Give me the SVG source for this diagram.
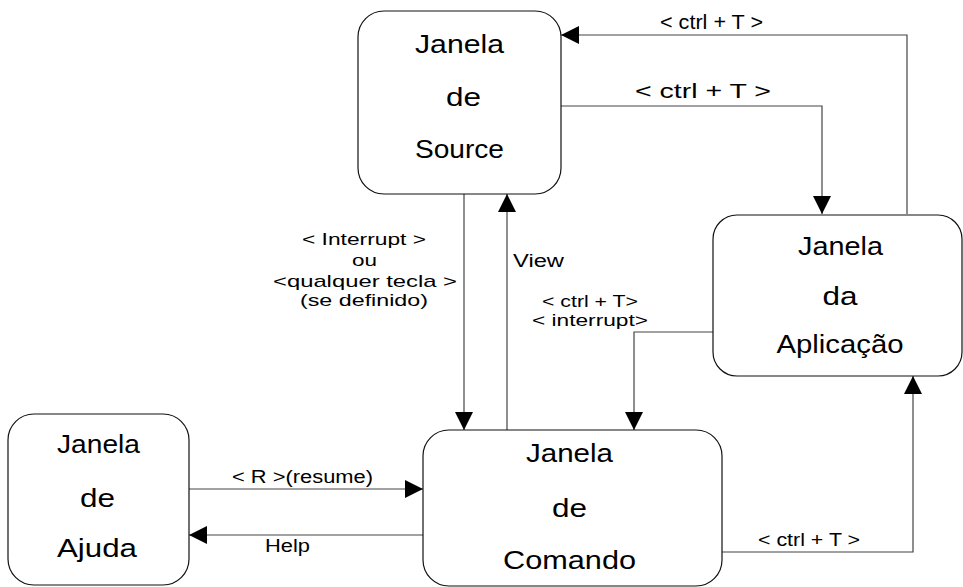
<svg xmlns="http://www.w3.org/2000/svg" width="963" height="587" viewBox="0 0 963 587">
  <style>
    .box { fill: #fff; stroke: #111; stroke-width: 1.2; }
    .ntxt { font-family: "Liberation Sans", Arial, sans-serif; font-size: 26px; fill: #000; text-anchor: middle; }
    .lbl { font-family: "Liberation Sans", Arial, sans-serif; font-size: 18px; fill: #000; text-anchor: middle; }
    .lbl-sm { font-family: "Liberation Sans", Arial, sans-serif; font-size: 17px; fill: #000; text-anchor: middle; }
    .lbl-top { font-family: "Liberation Sans", Arial, sans-serif; font-size: 20px; fill: #000; text-anchor: middle; }
    .edge { fill: none; stroke: #444; stroke-width: 1.2; marker-end: url(#arrow); }
  </style>
  <defs>
    <marker id="arrow" markerUnits="userSpaceOnUse" markerWidth="18" markerHeight="18" viewBox="0 0 16 16" refX="16" refY="8" orient="auto">
      <path d="M0,0 L16,8 L0,16 Z" fill="#000"/>
    </marker>
  </defs>
  <rect width="963" height="587" fill="#fff"/>

  <!-- connectors and their labels -->
  <g id="connectors">
    <path class="edge" d="M907,214 V35 H561"/>
    <path class="edge" d="M561,106 H822 V214"/>
    <path class="edge" d="M464,194 V430"/>
    <path class="edge" d="M507,430 V194"/>
    <path class="edge" d="M713,332 H634 V430"/>
    <path class="edge" d="M189,489 H423"/>
    <path class="edge" d="M423,535 H189"/>
    <path class="edge" d="M722,552 H913 V376"/>

    <text class="lbl-top" x="711.5" y="29" textLength="103" lengthAdjust="spacingAndGlyphs">&lt; ctrl + T &gt;</text>
    <text class="lbl-top" x="703" y="98" textLength="136" lengthAdjust="spacingAndGlyphs">&lt; ctrl + T &gt;</text>
    <text class="lbl-sm" x="364" y="245" textLength="124" lengthAdjust="spacingAndGlyphs">&lt; Interrupt &gt;</text>
    <text class="lbl-sm" x="364.5" y="266" textLength="25" lengthAdjust="spacingAndGlyphs">ou</text>
    <text class="lbl-sm" x="365" y="287" textLength="184" lengthAdjust="spacingAndGlyphs">&lt;qualquer tecla &gt;</text>
    <text class="lbl-sm" x="364" y="306" textLength="128" lengthAdjust="spacingAndGlyphs">(se definido)</text>
    <text class="lbl" x="538.5" y="267" textLength="51" lengthAdjust="spacingAndGlyphs">View</text>
    <text class="lbl-sm" x="590" y="307" textLength="96" lengthAdjust="spacingAndGlyphs">&lt; ctrl + T&gt;</text>
    <text class="lbl-sm" x="590" y="326" textLength="116" lengthAdjust="spacingAndGlyphs">&lt; interrupt&gt;</text>
    <text class="lbl" x="302.5" y="483" textLength="141" lengthAdjust="spacingAndGlyphs">&lt; R &gt;(resume)</text>
    <text class="lbl" x="287.5" y="552" textLength="45" lengthAdjust="spacingAndGlyphs">Help</text>
    <text class="lbl" x="809" y="546" textLength="102" lengthAdjust="spacingAndGlyphs">&lt; ctrl + T &gt;</text>
  </g>

  <g id="source">
    <rect class="box" x="358" y="11" width="203" height="183" rx="26"/>
    <text class="ntxt" x="459.5" y="53" textLength="89" lengthAdjust="spacingAndGlyphs">Janela</text>
    <text class="ntxt" x="463.5" y="106" textLength="35" lengthAdjust="spacingAndGlyphs">de</text>
    <text class="ntxt" x="459.5" y="158" textLength="89" lengthAdjust="spacingAndGlyphs">Source</text>
  </g>

  <g id="aplicacao">
    <rect class="box" x="713" y="215" width="249" height="161" rx="24"/>
    <text class="ntxt" x="840.5" y="255" textLength="85" lengthAdjust="spacingAndGlyphs">Janela</text>
    <text class="ntxt" x="840" y="305" textLength="35" lengthAdjust="spacingAndGlyphs">da</text>
    <text class="ntxt" x="840" y="353" textLength="127" lengthAdjust="spacingAndGlyphs">Aplicação</text>
  </g>

  <g id="comando">
    <rect class="box" x="423" y="430" width="299" height="156" rx="26"/>
    <text class="ntxt" x="569.5" y="462" textLength="87" lengthAdjust="spacingAndGlyphs">Janela</text>
    <text class="ntxt" x="569.5" y="517" textLength="35" lengthAdjust="spacingAndGlyphs">de</text>
    <text class="ntxt" x="569.5" y="569" textLength="133" lengthAdjust="spacingAndGlyphs">Comando</text>
  </g>

  <g id="ajuda">
    <rect class="box" x="8" y="414" width="181" height="171" rx="26"/>
    <text class="ntxt" x="98.5" y="453" textLength="83" lengthAdjust="spacingAndGlyphs">Janela</text>
    <text class="ntxt" x="97.5" y="507" textLength="35" lengthAdjust="spacingAndGlyphs">de</text>
    <text class="ntxt" x="97" y="557" textLength="80" lengthAdjust="spacingAndGlyphs">Ajuda</text>
  </g>
</svg>
